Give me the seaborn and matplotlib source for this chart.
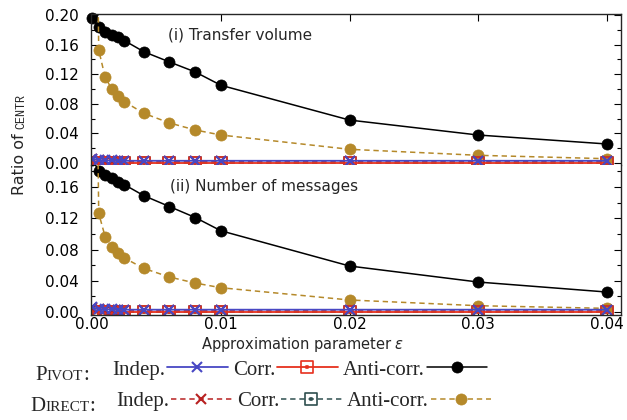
import numpy as np
import pandas as pd
import matplotlib
matplotlib.use("Agg")
import matplotlib.pyplot as plt
import seaborn as sns
from matplotlib.path import Path
from matplotlib.ticker import MultipleLocator, FormatStrFormatter

# ---------------- data ----------------
eps = [0.0, 0.0005, 0.001, 0.0015, 0.002, 0.0025, 0.004, 0.006, 0.008, 0.01, 0.02, 0.03, 0.04]

# (i) Transfer volume
vol_pivot_indep = [0.006, 0.004, 0.0035, 0.0035, 0.003, 0.003, 0.003, 0.003, 0.003, 0.003, 0.003, 0.003, 0.003]
vol_pivot_corr = [0.0003, 0.0003, 0.0003, 0.0003, 0.0003, 0.0003, 0.0003, 0.0003, 0.0003, 0.0003, 0.0003, 0.0003, 0.0003]
vol_pivot_anti = [0.1955, 0.1834, 0.1774, 0.1730, 0.1698, 0.1653, 0.1504, 0.1365, 0.1230, 0.1050, 0.0580, 0.0378, 0.0257]
vol_direct_indep = [0.0055, 0.0035, 0.003, 0.003, 0.0025, 0.0025, 0.0025, 0.0025, 0.0025, 0.0025, 0.0025, 0.0025, 0.0025]
vol_direct_corr = [0.0002, 0.0002, 0.0002, 0.0002, 0.0002, 0.0002, 0.0002, 0.0002, 0.0002, 0.0002, 0.0002, 0.0002, 0.0002]
vol_direct_anti = [0.90, 0.1527, 0.1158, 0.1004, 0.0901, 0.0828, 0.0672, 0.0541, 0.0446, 0.0378, 0.0185, 0.0104, 0.0058]

# (ii) Number of messages
msg_pivot_indep = [0.006, 0.004, 0.0035, 0.0035, 0.003, 0.003, 0.003, 0.003, 0.003, 0.003, 0.003, 0.003, 0.003]
msg_pivot_corr = [0.0003, 0.0003, 0.0003, 0.0003, 0.0003, 0.0003, 0.0003, 0.0003, 0.0003, 0.0003, 0.0003, 0.0003, 0.0003]
msg_pivot_anti = [0.195, 0.181, 0.175, 0.171, 0.167, 0.163, 0.149, 0.135, 0.121, 0.104, 0.0589, 0.0384, 0.0256]
msg_direct_indep = [0.0055, 0.0035, 0.003, 0.003, 0.0025, 0.0025, 0.0025, 0.0025, 0.0025, 0.0025, 0.0025, 0.0025, 0.0025]
msg_direct_corr = [0.0002, 0.0002, 0.0002, 0.0002, 0.0002, 0.0002, 0.0002, 0.0002, 0.0002, 0.0002, 0.0002, 0.0002, 0.0002]
msg_direct_anti = [0.80, 0.1264, 0.0964, 0.0836, 0.0751, 0.0691, 0.0559, 0.0448, 0.0371, 0.0311, 0.0154, 0.0081, 0.0047]

series_labels = ["Indep.", "Corr.", "Anti-corr."]
panel_titles = ["(i) Transfer volume", "(ii) Number of messages"]
xticks = [0.00, 0.01, 0.02, 0.03, 0.04]

# ---------------- style ----------------
sns.set_theme(style="ticks")
plt.rcParams["font.family"] = ["DejaVu Sans"]
plt.rcParams["axes.linewidth"] = 1.0

W, H = 627, 420
fig = plt.figure(figsize=(W / 100, H / 100), dpi=100)

def fx(px):
    return px / W

def fy(py):
    return 1 - py / H

L, R = 91, 621
ax_top = fig.add_axes([fx(L), fy(165), fx(R - L), (165 - 14) / H])
ax_bot = fig.add_axes([fx(L), fy(315), fx(R - L), (315 - 165) / H])

sq_verts = [(-1, -1), (1, -1), (1, 1), (-1, 1), (-1, -1),
            (-0.14, -0.14), (0.14, -0.14), (0.14, 0.14), (-0.14, 0.14), (-0.14, -0.14)]
sq_codes = [Path.MOVETO, Path.LINETO, Path.LINETO, Path.LINETO, Path.CLOSEPOLY] * 2
sq_dot = Path(sq_verts, sq_codes)

dash = (0, (3.5, 2.5))
styles = {
    "p_indep": dict(color="#4848c4", linestyle="-", marker="x", markersize=7, mew=1.5, lw=1.3),
    "p_corr": dict(color="#e6301e", linestyle="-", marker=sq_dot, markersize=8, mew=1.2, lw=1.3, mfc="none"),
    "p_anti": dict(color="black", linestyle="-", marker="o", markersize=8, mew=0.5, lw=1.1),
    "d_indep": dict(color="#b82020", linestyle=dash, marker="x", markersize=7, mew=1.5, lw=1.1),
    "d_corr": dict(color="#2f4f4f", linestyle=dash, marker=sq_dot, markersize=8, mew=1.2, lw=1.1, mfc="none"),
    "d_anti": dict(color="#b5892a", linestyle=dash, marker="o", markersize=8, mew=0.5, lw=1.1),
}

panels = [
    (ax_top, dict(p_indep=vol_pivot_indep, p_corr=vol_pivot_corr, p_anti=vol_pivot_anti,
                  d_indep=vol_direct_indep, d_corr=vol_direct_corr, d_anti=vol_direct_anti)),
    (ax_bot, dict(p_indep=msg_pivot_indep, p_corr=msg_pivot_corr, p_anti=msg_pivot_anti,
                  d_indep=msg_direct_indep, d_corr=msg_direct_corr, d_anti=msg_direct_anti)),
]

handles = {}
draw_order = ["p_anti", "d_anti", "d_corr", "p_corr", "d_indep", "p_indep"]
for ax, data in panels:
    for key in draw_order:
        st = dict(styles[key])
        color = st.pop("color")
        mfc = st.pop("mfc", color)
        mew = st.pop("mew")
        ms = st.pop("markersize")
        lw = st.pop("lw")
        df = pd.DataFrame({"eps": eps, "ratio": data[key]})
        sns.lineplot(data=df, x="eps", y="ratio", ax=ax, color=color,
                     linestyle=st["linestyle"], marker=st["marker"],
                     markersize=ms, markeredgewidth=mew, markeredgecolor=color,
                     markerfacecolor=mfc, linewidth=lw, errorbar=None, legend=False)
        if ax is ax_top:
            handles[key] = ax.lines[-1]
            if key == "p_anti":
                ax.lines[-1].set_clip_on(False)

for ax in (ax_top, ax_bot):
    ax.set_xlim(-0.0001, 0.0411)
    ax.set_xticks(xticks)
    ax.xaxis.set_major_formatter(FormatStrFormatter("%.2f"))
    ax.yaxis.set_major_formatter(FormatStrFormatter("%.2f"))
    ax.yaxis.set_minor_locator(MultipleLocator(0.02))
    ax.tick_params(axis="both", which="both", direction="in", labelsize=11,
                   right=True, colors="black")
    ax.tick_params(axis="y", pad=9)
    ax.tick_params(which="major", length=5, width=0.8)
    ax.tick_params(which="minor", length=3, width=0.8)
    ax.set_xlabel("")
    ax.set_ylabel("")
    ax.set_facecolor("white")

ax_top.set_ylim(-0.0027, 0.2013)
ax_top.set_yticks([0.00, 0.04, 0.08, 0.12, 0.16, 0.20])
ax_top.spines["bottom"].set_visible(False)
ax_top.tick_params(axis="x", which="both", top=True, bottom=False, labelbottom=False)

ax_bot.set_ylim(-0.0038, 0.1882)
ax_bot.set_yticks([0.00, 0.04, 0.08, 0.12, 0.16])
ax_bot.spines["top"].set_visible(False)
ax_bot.tick_params(axis="x", which="both", top=False, bottom=True, labelbottom=True, pad=1.5)

ax_top.text((168 - L) / (R - L), (165 - 35) / 151, panel_titles[0], fontsize=11,
            va="center", ha="left", transform=ax_top.transAxes)
ax_bot.text((170 - L) / (R - L), (315 - 187) / 150, panel_titles[1], fontsize=11,
            va="center", ha="left", transform=ax_bot.transAxes)

fig.text(fx(303), fy(344), "Approximation parameter $\\epsilon$", fontsize=10.5,
         ha="center", va="center")

renderer = fig.canvas.get_renderer()

# y label: "Ratio of" + small-caps CENTR
t1 = fig.text(fx(24), fy(195), "Ratio of", rotation=90, rotation_mode="anchor",
              ha="left", va="baseline", fontsize=11.5)
bb = t1.get_window_extent(renderer)
fig.text(fx(24), (bb.y1 + 4) / H, "CENTR", rotation=90, rotation_mode="anchor",
         ha="left", va="baseline", fontsize=8.5, family="Liberation Mono")

# row labels in small caps
def small_caps(x_px, base_px, parts):
    x = x_px
    for s, size in parts:
        t = fig.text(x / W, fy(base_px), s, fontsize=size, family="Liberation Serif",
                     ha="left", va="baseline")
        x = t.get_window_extent(renderer).x1

small_caps(35, 380, [("P", 15), ("IVOT", 11), (":", 15)])
small_caps(30, 411, [("D", 15), ("IRECT", 11), (":", 15)])

leg_kw = dict(ncol=3, markerfirst=False, frameon=False, handlelength=2.9,
              handletextpad=0.1, columnspacing=0.25, borderpad=0, borderaxespad=0,
              prop=dict(family="Liberation Serif", size=15), loc="center left")
fig.legend([handles["p_indep"], handles["p_corr"], handles["p_anti"]], series_labels,
           bbox_to_anchor=(fx(112), fy(370)), **leg_kw)
fig.legend([handles["d_indep"], handles["d_corr"], handles["d_anti"]], series_labels,
           bbox_to_anchor=(fx(116), fy(401)), **leg_kw)

fig.savefig("out.png", dpi=100, facecolor="white")
